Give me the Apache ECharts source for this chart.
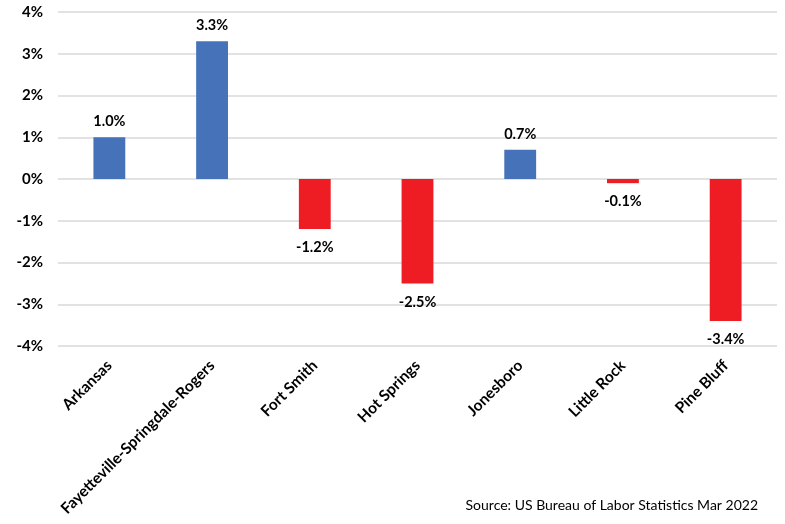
<!DOCTYPE html>
<html>
<head>
<meta charset="utf-8">
<script src="https://cdn.jsdelivr.net/npm/echarts@6/dist/echarts.min.js"></script>
<style>
  html, body { margin: 0; padding: 0; background: #ffffff; }
  #chart { width: 785px; height: 524px; }
</style>
</head>
<body>
<div id="chart"></div>
<script>
// Over-the-year employment change by Arkansas metro area (percent)
const areas = ['Arkansas', 'Fayetteville-Springdale-Rogers', 'Fort Smith', 'Hot Springs', 'Jonesboro', 'Little Rock', 'Pine Bluff'];
const changePct = [1.0, 3.3, -1.2, -2.5, 0.7, -0.1, -3.4];
const yTicks = [-4, -3, -2, -1, 0, 1, 2, 3, 4];
const sourceNote = 'Source: US Bureau of Labor Statistics Mar 2022';

const BLUE = '#4672B9';
const RED = '#EE1D24';
const FONT = 'Lato, "Open Sans", sans-serif';

const chart = echarts.init(document.getElementById('chart'), null, { renderer: 'canvas' });

chart.setOption({
  animation: false,
  backgroundColor: '#ffffff',
  grid: { left: 58, right: 8, top: 12, bottom: 178, containLabel: false },
  xAxis: {
    type: 'category',
    data: areas,
    axisLine: { show: false, onZero: false },
    axisTick: { show: false },
    axisLabel: {
      rotate: 45,
      margin: 17,
      interval: 0,
      color: '#000',
      fontFamily: FONT,
      fontWeight: 'bold',
      fontSize: 15.5
    }
  },
  yAxis: {
    type: 'value',
    min: yTicks[0],
    max: yTicks[yTicks.length - 1],
    interval: 1,
    axisLine: { show: false },
    axisTick: { show: false },
    splitLine: { lineStyle: { color: '#D9D9D9', width: 1.5 } },
    axisLabel: {
      margin: 15,
      color: '#000',
      fontFamily: FONT,
      fontWeight: 'bold',
      fontSize: 15,
      formatter: v => v + '%'
    }
  },
  series: [{
    type: 'bar',
    barWidth: '31%',
    data: changePct.map(v => ({
      value: v,
      itemStyle: { color: v >= 0 ? BLUE : RED },
      label: {
        show: true,
        position: v >= 0 ? 'top' : 'bottom',
        distance: v >= 0 ? 8 : 11
      }
    })),
    label: {
      color: '#000',
      fontFamily: FONT,
      fontWeight: 'bold',
      fontSize: 14.5,
      formatter: p => p.value.toFixed(1) + '%'
    }
  }],
  graphic: [{
    type: 'text',
    right: 27,
    top: 498,
    style: {
      text: sourceNote,
      fill: '#000',
      font: '14px ' + FONT
    }
  }]
});
</script>
</body>
</html>
